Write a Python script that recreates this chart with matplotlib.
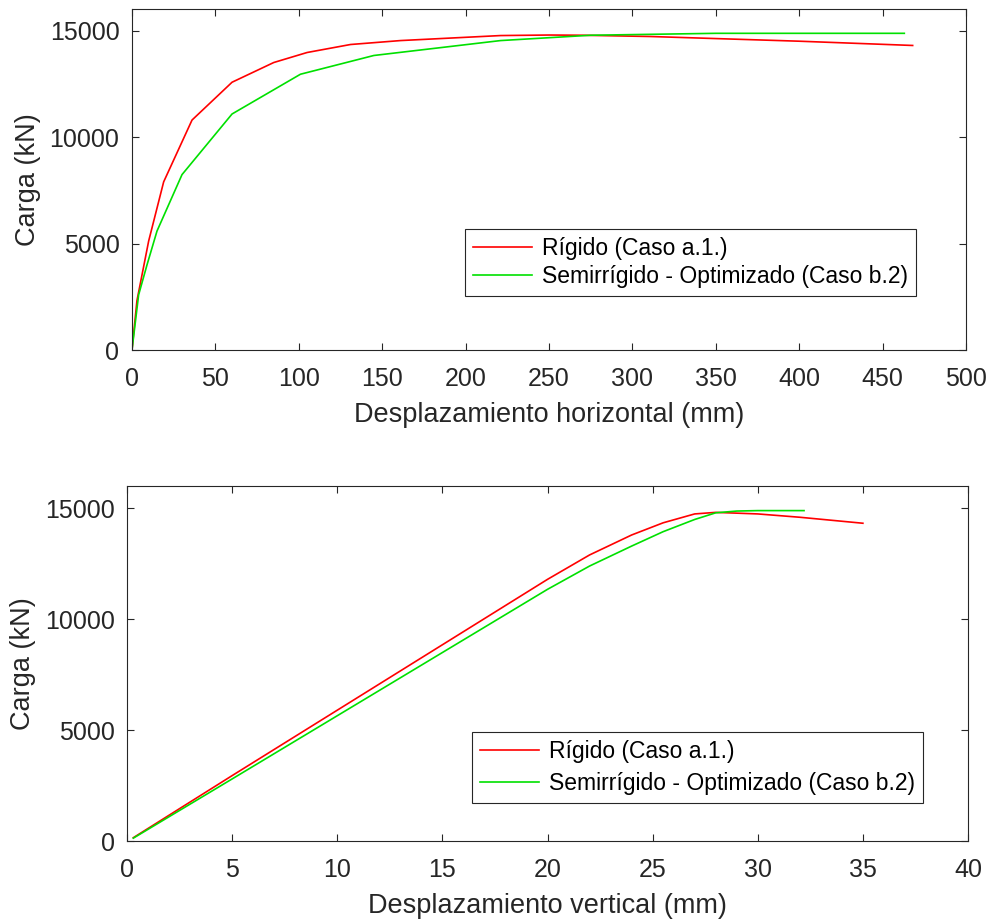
import matplotlib
matplotlib.use("Agg")
import matplotlib.pyplot as plt

plt.rcParams['font.family'] = ['Liberation Sans', 'DejaVu Sans']

# Load vs. horizontal displacement
h_rig_x = [0, 3, 10, 19, 36, 60, 85, 105, 131, 161, 221, 250, 270, 311, 400, 468]
h_rig_y = [0, 2330, 5120, 7900, 10800, 12575, 13500, 13970, 14345, 14530, 14765, 14790, 14780, 14720, 14500, 14300]
h_semi_x = [0, 4, 9, 15, 30, 60, 101, 145, 221, 275, 350, 463]
h_semi_y = [0, 2600, 4000, 5590, 8240, 11085, 12950, 13830, 14530, 14780, 14870, 14870]

# Load vs. vertical displacement
v_rig_x = [0.3, 5, 10, 15, 20, 22, 24, 25.5, 27, 28, 30, 32, 35]
v_rig_y = [150, 2950, 5900, 8850, 11800, 12900, 13800, 14350, 14750, 14820, 14750, 14600, 14330]
v_semi_x = [0.3, 5, 10, 15, 20, 22, 24, 25.5, 27, 28, 29, 30, 32.2]
v_semi_y = [130, 2800, 5650, 8500, 11350, 12400, 13300, 13950, 14500, 14800, 14880, 14900, 14900]

labels = ['Rígido (Caso a.1.)', 'Semirrígido - Optimizado (Caso b.2)']
RED = '#ff0000'
GREEN = '#00e000'

fig = plt.figure(figsize=(9.9, 9.24), dpi=100)
ax1 = fig.add_axes([0.1333, 0.621, 0.8425, 0.369])
ax2 = fig.add_axes([0.1283, 0.0898, 0.8495, 0.384])

TICK_FS = 18
LABEL_FS = 19.5
LEG_FS = 16.5

panels = [
    (ax1, h_rig_x, h_rig_y, h_semi_x, h_semi_y, (0, 500), range(0, 501, 50),
     'Desplazamiento horizontal (mm)', (0.399, 0.355), 0.22),
    (ax2, v_rig_x, v_rig_y, v_semi_x, v_semi_y, (0, 40), range(0, 41, 5),
     'Desplazamiento vertical (mm)', (0.41, 0.307), 0.4),
]

for ax, rx, ry, sx, sy, xlim, xticks, xlabel, anchor, lspace in panels:
    ax.plot(rx, ry, color=RED, lw=1.2, label=labels[0])
    ax.plot(sx, sy, color=GREEN, lw=1.2, label=labels[1])
    ax.set_xlim(*xlim)
    ax.set_xticks(list(xticks))
    ax.set_ylim(0, 16000)
    ax.set_yticks([0, 5000, 10000, 15000])
    ax.tick_params(direction='in', top=True, right=True, labelsize=TICK_FS,
                   colors='#262626', length=5, width=0.8)
    ax.tick_params(axis='x', pad=12)
    ax.tick_params(axis='y', pad=9)
    for sp in ax.spines.values():
        sp.set_color('#262626')
        sp.set_linewidth(0.8)
    ax.set_xlabel(xlabel, fontsize=LABEL_FS, color='#262626', labelpad=8)
    ax.set_ylabel('Carga (kN)', fontsize=LABEL_FS, color='#262626', labelpad=6)
    leg = ax.legend(loc='upper left', bbox_to_anchor=anchor, fontsize=LEG_FS,
                    fancybox=False, framealpha=1, edgecolor='#262626',
                    handlelength=2.6, handletextpad=0.4, borderpad=0.35,
                    labelspacing=lspace, borderaxespad=0)
    leg.get_frame().set_linewidth(0.8)

fig.savefig('out.png', dpi=100, facecolor='white')
